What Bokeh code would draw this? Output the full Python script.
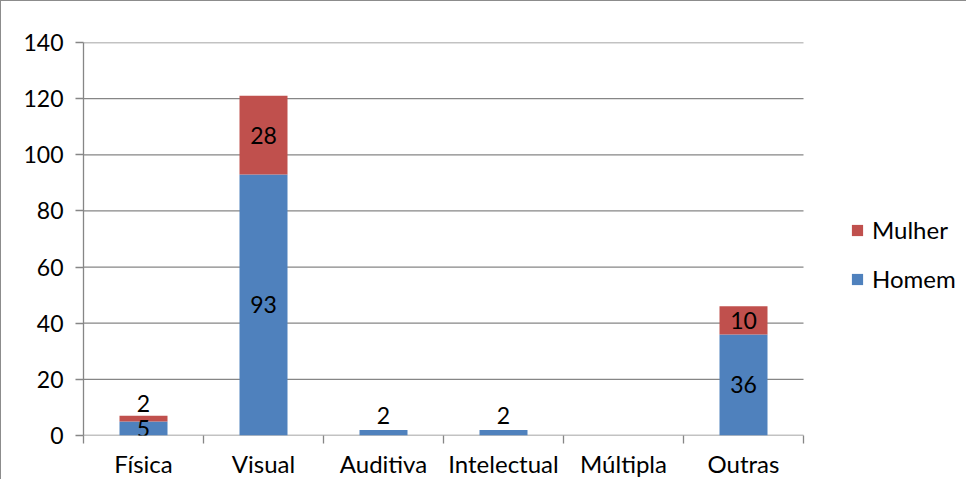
from bokeh.plotting import figure
from bokeh.models import (ColumnDataSource, FixedTicker, Legend, LegendItem,
                          Range1d, LabelSet)
from bokeh.core.properties import value
from bokeh.embed import file_html
from bokeh.resources import INLINE

categories = ["Física", "Visual", "Auditiva", "Intelectual", "Múltipla", "Outras"]
homem = [5, 93, 2, 2, 0, 36]
mulher = [2, 28, 0, 0, 0, 10]
y_ticks = [0, 20, 40, 60, 80, 100, 120, 140]

FONT = "Lato"
FS_NUM = "23px"
FS_TXT = "24px"
BLUE = "#4F81BD"
RED = "#C0504D"
GRID = "#868686"

n = len(categories)
xs = [i + 0.5 for i in range(n)]
top_m = [h + m for h, m in zip(homem, mulher)]

W, H = 966, 479
LEFT, TOP, BOTTOM = 82, 41, 45
PLOT_W = 720                      # width of the category area in px
frame_w = W - LEFT
x_end = n * frame_w / PLOT_W      # extend range so legend lives inside frame

src = ColumnDataSource(dict(x=xs, h=homem, b=[0] * n, m=top_m))

p = figure(width=W, height=H, output_backend="svg", toolbar_location=None,
           x_range=Range1d(0, x_end), y_range=Range1d(0, 140),
           min_border_left=LEFT, min_border_right=0,
           min_border_top=TOP, min_border_bottom=BOTTOM)
p.styles = {"border-left": "1px solid #8c8c8c", "border-top": "1px solid #8c8c8c"}
p.outline_line_color = None
p.background_fill_color = "white"
p.border_fill_color = "white"

# grid lines only across the category area
p.xgrid.visible = False
p.ygrid.visible = False
p.segment(x0=[0] * len(y_ticks), x1=[n] * len(y_ticks), y0=y_ticks, y1=y_ticks,
          line_color=GRID, line_width=1.3)

rh = p.vbar(x="x", bottom="b", top="h", width=0.4, source=src,
            fill_color=BLUE, line_color=None)
rm = p.vbar(x="x", bottom="h", top="m", width=0.4, source=src,
            fill_color=RED, line_color=None)

# y axis
p.yaxis.ticker = FixedTicker(ticks=y_ticks)
p.yaxis.axis_line_color = GRID
p.yaxis.axis_line_width = 1.3
p.yaxis.major_tick_line_color = GRID
p.yaxis.major_tick_line_width = 1.3
p.yaxis.major_tick_out = 8
p.yaxis.major_tick_in = 0
p.yaxis.minor_tick_line_color = None
p.yaxis.major_label_text_font = FONT
p.yaxis.major_label_text_font_size = FS_NUM
p.yaxis.major_label_text_color = "black"
p.yaxis.major_label_standoff = 12

# x axis: labels at centers, tick marks at boundaries; axis line = 0 grid line
p.xaxis.ticker = FixedTicker(ticks=xs, minor_ticks=list(range(n + 1)))
p.xaxis.major_label_overrides = {x: c for x, c in zip(xs, categories)}
p.xaxis.axis_line_color = None
p.xaxis.major_tick_line_color = None
p.xaxis.major_tick_out = 0
p.xaxis.major_tick_in = 0
p.xaxis.minor_tick_line_color = GRID
p.xaxis.minor_tick_line_width = 1.3
p.xaxis.minor_tick_out = 8
p.xaxis.minor_tick_in = 0
p.xaxis.major_label_text_font = FONT
p.xaxis.major_label_text_font_size = FS_TXT
p.xaxis.major_label_text_color = "black"
p.xaxis.major_label_standoff = 5

# data labels
lx, ly, lt, loff = [], [], [], []
for i in range(n):
    h, m = homem[i], mulher[i]
    if h > 0:
        lx.append(xs[i]); ly.append(h / 2); lt.append(str(h))
        loff.append(17 if h < 4 else 0)
    if m > 0:
        lx.append(xs[i]); ly.append(h + m / 2); lt.append(str(m))
        loff.append(15 if m < 4 else 0)
lsrc = ColumnDataSource(dict(x=lx, y=ly, t=lt, off=loff))
labels = LabelSet(x="x", y="y", text="t", y_offset="off", source=lsrc,
                  text_align="center", text_baseline="middle",
                  text_font=value(FONT), text_font_size=value(FS_NUM),
                  text_color="black")
p.add_layout(labels)

legend = Legend(items=[LegendItem(label="Mulher", renderers=[rm]),
                       LegendItem(label="Homem", renderers=[rh])],
                location=(767, 142), orientation="vertical",
                padding=0, margin=0, spacing=20,
                glyph_width=14, glyph_height=14, label_height=20,
                label_standoff=8, border_line_color=None,
                background_fill_alpha=0,
                label_text_font=FONT, label_text_font_size=FS_TXT,
                label_text_color="black")
p.add_layout(legend)

open("out.html", "w").write(file_html(p, INLINE))
